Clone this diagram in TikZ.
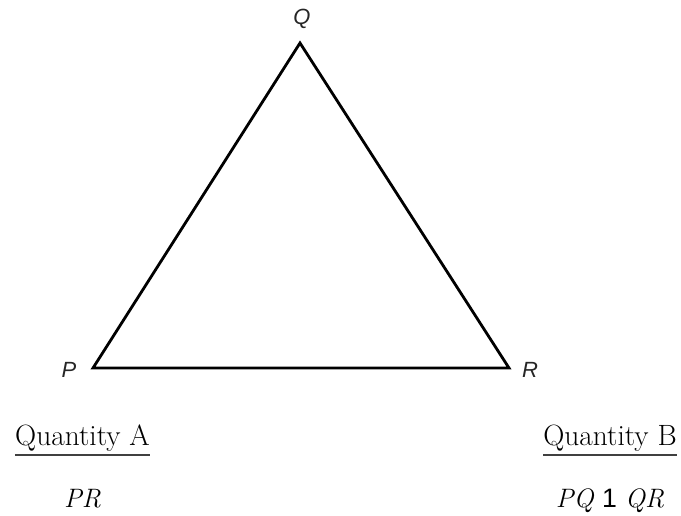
\documentclass[tikz,border=0pt]{standalone}
\usepackage{fontspec}
\newfontfamily\vertexfont{Liberation Sans}
\usetikzlibrary{positioning}

\begin{document}
\begin{tikzpicture}[
      x=0.75pt, y=-0.75pt,
      vertex/.style={font=\vertexfont\itshape\fontsize{16.5}{19}\selectfont, text=black!85},
      side/.style={line width=2.1pt, line join=miter},
      quantity/.style={anchor=base, inner sep=0pt, font=\fontsize{22}{26}\selectfont},
      entry/.style={anchor=base, inner sep=0pt, font=\fontsize{20}{24}\selectfont},
      rule/.style={line width=0.9pt, draw=black!75}
    ]
    \useasboundingbox (0,0) rectangle (681,515);

    % Triangle corners
    \coordinate (p) at (93,368);
    \coordinate (q) at (300,43);
    \coordinate (r) at (509,368);

    \draw[side] (p) -- (q) -- (r) -- cycle;

    % Corner labels
    \node[vertex] (qlabel) at (302,19) {Q};
    \node[vertex] (plabel) at (69,370) {P};
    \node[vertex] (rlabel) at (530,370) {R};

    % Columns: Quantity A and Quantity B
    \node[quantity] (quantA) at (82.5,445) {Quantity A};
    \node[quantity] (quantB) at (610,445) {Quantity B};
    \draw[rule] ([yshift=-7.5pt]quantA.base west) -- ([yshift=-7.5pt]quantA.base east);
    \draw[rule] ([yshift=-7.5pt]quantB.base west) -- ([yshift=-7.5pt]quantB.base east);

    \node[entry] (entryA) at (82.5,507) {\textit{PR}};
    \node[entry] (entryB) at (610,507) {\textit{PQ} {\vertexfont 1} \textit{QR}};

  \end{tikzpicture}
\end{document}
